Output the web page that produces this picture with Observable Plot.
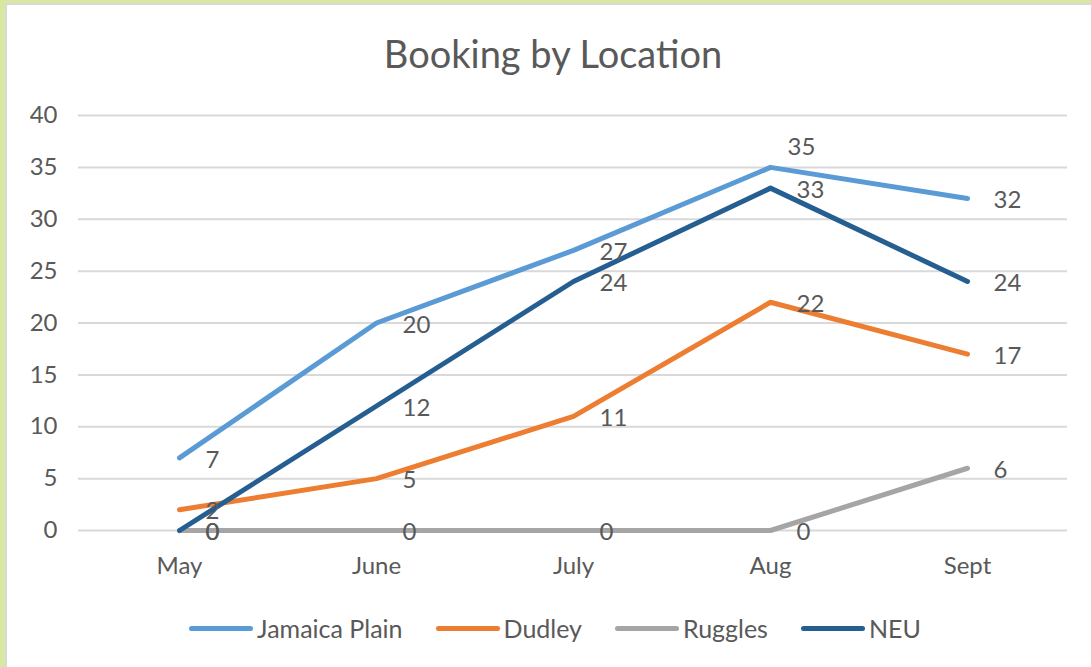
<!DOCTYPE html>
<html>
<head>
<meta charset="utf-8">
<script src="https://cdn.jsdelivr.net/npm/d3@7"></script>
<script src="https://cdn.jsdelivr.net/npm/@observablehq/plot@0.6"></script>
<style>
  html, body { margin: 0; padding: 0; }
  body { width: 1091px; height: 667px; background: #d8e8a0; position: relative; overflow: hidden; font-family: Lato, "Open Sans", sans-serif; color: #595959; }
  #frame { position: absolute; left: 5px; top: 3px; width: 1086px; height: 664px; background: #fff; border-left: 2px solid #d9d9d9; border-top: 2px solid #d9d9d9; box-sizing: border-box; }
  #title { position: absolute; left: 0; top: 31px; width: 1106px; text-align: center; font-size: 38px; line-height: 44px; color: #595959; }
  #chart { position: absolute; left: 7px; top: 90px; }
  #legend { position: absolute; left: 0; top: 612px; width: 1110px; display: flex; justify-content: center; gap: 33px; font-size: 25px; line-height: 32px; color: #595959; }
  .item { display: flex; align-items: center; gap: 4px; }
  .sw { width: 64px; height: 5px; border-radius: 3px; }
</style>
</head>
<body>
<div id="frame"></div>
<div id="title">Booking by Location</div>
<div id="chart"></div>
<div id="legend"></div>
<script>
const months = ["May", "June", "July", "Aug", "Sept"];
const seriesNames = ["Jamaica Plain", "Dudley", "Ruggles", "NEU"];
const jamaicaPlain = [7, 20, 27, 35, 32];
const dudley = [2, 5, 11, 22, 17];
const ruggles = [0, 0, 0, 0, 6];
const neu = [0, 12, 24, 33, 24];
const yTicks = [0, 5, 10, 15, 20, 25, 30, 35, 40];
const colors = ["#5B9BD5", "#ED7D31", "#A5A5A5", "#255E91"];

const seriesValues = [jamaicaPlain, dudley, ruggles, neu];
const data = [];
seriesNames.forEach((s, i) => {
  months.forEach((m, j) => data.push({series: s, month: m, value: seriesValues[i][j]}));
});

// the Jamaica Plain August label sits above its point in the reference
const isAbove = d => d.series === "Jamaica Plain" && d.month === "Aug";

const chart = Plot.plot({
  width: 1084,
  height: 500,
  marginLeft: 71,
  marginRight: 24,
  marginTop: 25,
  marginBottom: 60,
  style: { fontFamily: "Lato, 'Open Sans', sans-serif", fontSize: "24px", color: "#595959", background: "transparent" },
  x: { type: "point", domain: months, padding: 0.5, label: null },
  y: { domain: [0, 40], ticks: yTicks, label: null },
  color: { domain: seriesNames, range: colors },
  marks: [
    Plot.gridY(yTicks, { stroke: "#d9d9d9", strokeOpacity: 1, strokeWidth: 2 }),
    Plot.axisY(yTicks, { tickSize: 0, tickPadding: 21, label: null }),
    Plot.axisX({ tickSize: 0, tickPadding: 26, label: null }),
    Plot.line(data, { x: "month", y: "value", z: "series", stroke: "series", strokeWidth: 5, strokeLinecap: "round", strokeLinejoin: "round", curve: "linear" }),
    Plot.text(data.filter(d => !isAbove(d)), { x: "month", y: "value", text: d => String(d.value), textAnchor: "start", dx: 26, dy: 2, fill: "#595959", fontSize: 24 }),
    Plot.text(data.filter(isAbove), { x: "month", y: "value", text: d => String(d.value), textAnchor: "start", dx: 17, dy: -20, fill: "#595959", fontSize: 24 })
  ]
});
document.getElementById("chart").appendChild(chart);

const legend = document.getElementById("legend");
seriesNames.forEach((s, i) => {
  const item = document.createElement("div");
  item.className = "item";
  const sw = document.createElement("div");
  sw.className = "sw";
  sw.style.background = colors[i];
  const t = document.createElement("span");
  t.textContent = s;
  item.appendChild(sw);
  item.appendChild(t);
  legend.appendChild(item);
});
</script>
</body>
</html>
